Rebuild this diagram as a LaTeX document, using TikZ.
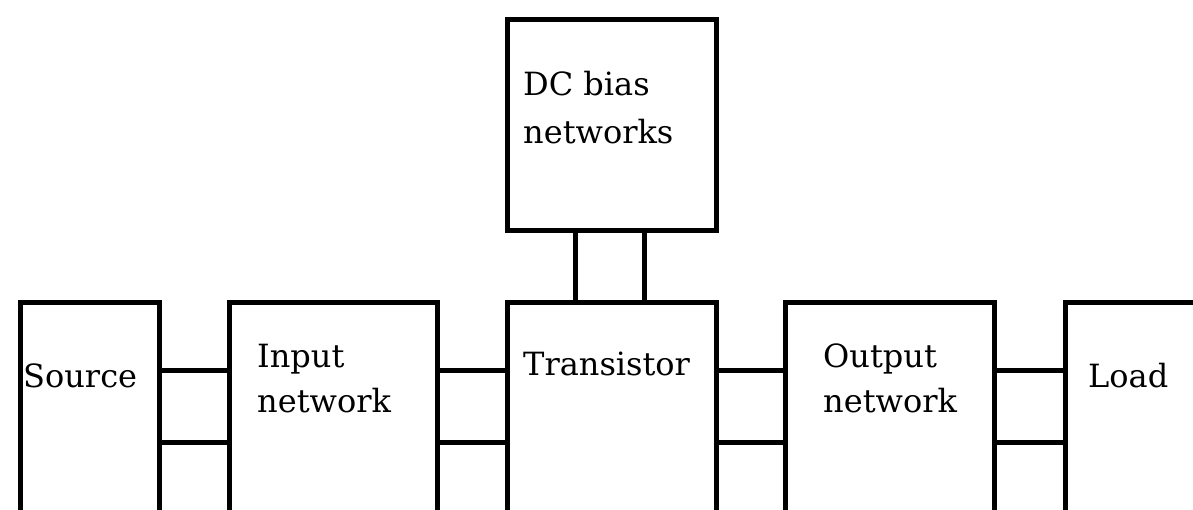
\documentclass[tikz,border=0pt]{standalone}
\usepackage{fontspec}
\setmainfont{DejaVu Serif}
\begin{document}
\begin{tikzpicture}[x=1pt,y=-1pt,
  box/.style={draw=black,line width=5pt,rectangle,anchor=north west,inner sep=0pt},
  wire/.style={draw=black,line width=5pt},
  lbl/.style={anchor=base west,inner sep=0pt,text=black,font=\fontsize{32}{38}\selectfont}]
\useasboundingbox (0,0) rectangle (1193,509);
\clip (0,0) rectangle (1193,509);
\node[box,minimum width=139pt,minimum height=260pt] (src) at (18,300) {};
\node[box,minimum width=208pt,minimum height=260pt] (inp) at (227,300) {};
\node[box,minimum width=209pt,minimum height=260pt] (tr) at (505,300) {};
\node[box,minimum width=209pt,minimum height=260pt] (out) at (783,300) {};
\node[box,minimum width=200pt,minimum height=260pt] (load) at (1063,300) {};
\node[box,minimum width=209pt,minimum height=211pt] (dc) at (505,17) {};
\foreach \a/\b in {src/inp,inp/tr,tr/out,out/load}{
  \draw[wire] (\a.east |- 0,370) -- (\b.west |- 0,370);
  \draw[wire] (\a.east |- 0,442) -- (\b.west |- 0,442);
}
\draw[wire] (dc.south -| 575,0) -- (tr.north -| 575,0);
\draw[wire] (dc.south -| 644,0) -- (tr.north -| 644,0);
\node[lbl] (tsrc) at (23,387) {Source};
\node[lbl] (tinp1) at (257,367) {Input};
\node[lbl] (tinp2) at (257,412) {network};
\node[lbl] (ttr) at (523,375) {Transistor};
\node[lbl] (tout1) at (823,367) {Output};
\node[lbl] (tout2) at (823,412) {network};
\node[lbl] (tload) at (1088,387) {Load};
\node[lbl] (tdc1) at (523,95) {DC bias};
\node[lbl] (tdc2) at (523,143) {networks};
\end{tikzpicture}
\end{document}
